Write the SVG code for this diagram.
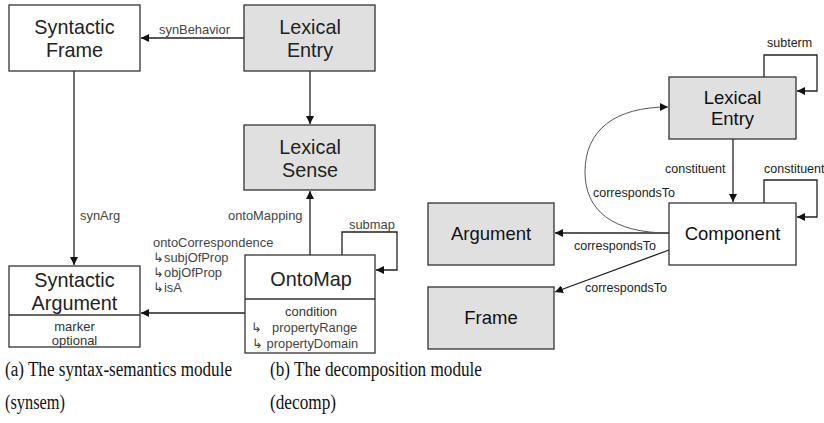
<svg xmlns="http://www.w3.org/2000/svg" width="824" height="423" viewBox="0 0 824 423">
<defs>
<marker id="ah" viewBox="0 0 10 10" refX="10" refY="5" markerWidth="8" markerHeight="8" markerUnits="userSpaceOnUse" orient="auto">
<path d="M0,0 L10,5 L0,10 z" fill="#111"/>
</marker>
<style>
rect{stroke:#333;stroke-width:1.3}
.w{fill:#fff}
.g{fill:#e0e0e0}
.t{font-family:"Liberation Sans",Arial,sans-serif;font-size:19.8px;fill:#222;text-anchor:middle}
.tr{font-family:"Liberation Sans",Arial,sans-serif;font-size:18.5px;fill:#111;text-anchor:middle}
.a{font-family:"Liberation Sans",Arial,sans-serif;font-size:13px;fill:#333;text-anchor:middle}
.l{font-family:"Liberation Sans",Arial,sans-serif;font-size:12.9px;fill:#444}
.lr{font-family:"Liberation Sans",Arial,sans-serif;font-size:12.5px;fill:#222}
.c{fill:none;stroke:#222;stroke-width:1.3;marker-end:url(#ah)}
.cap{font-family:"Liberation Serif","Times New Roman",serif;font-size:20px;fill:#111}
</style>
</defs>

<g id="connectors">
<line class="c" x1="244" y1="38" x2="141" y2="38"/>
<line class="c" x1="310" y1="71" x2="310" y2="124"/>
<line class="c" x1="74" y1="71" x2="74" y2="265"/>
<line class="c" x1="310" y1="255" x2="310" y2="191"/>
<path class="c" d="M342,255 V232 H397 V270 H376"/>
<line class="c" x1="245" y1="313" x2="141" y2="313"/>
<path class="c" d="M764,77 V55 H817 V91 H797"/>
<line class="c" x1="733" y1="139" x2="733" y2="202"/>
<path class="c" d="M764,203 V180 H817 V217 H797"/>
<line class="c" x1="669" y1="233" x2="555" y2="233"/>
<line class="c" x1="669" y1="250" x2="555" y2="292"/>
<path class="c" style="stroke:#555;stroke-width:1" d="M669,233 C612,233 585,210 585,172 C585,130 615,107 668,107"/>
</g>

<g id="labels">
<text class="l" x="159" y="34">synBehavior</text>
<text class="l" x="80" y="220">synArg</text>
<text class="l" x="228" y="220">ontoMapping</text>
<text class="l" x="349" y="229">submap</text>
<text class="l" x="153" y="247">ontoCorrespondence</text>
<text class="l" x="153" y="262">↳subjOfProp</text>
<text class="l" x="153" y="277">↳objOfProp</text>
<text class="l" x="153" y="292">↳isA</text>
<text class="lr" x="767" y="47">subterm</text>
<text class="lr" x="665" y="173">constituent</text>
<text class="lr" x="764" y="173">constituent</text>
<text class="lr" x="593" y="197">correspondsTo</text>
<text class="lr" x="574" y="250">correspondsTo</text>
<text class="lr" x="585" y="292">correspondsTo</text>
</g>

<g id="syntactic-frame">
<rect class="w" x="9" y="5" width="131" height="66"/>
<text class="t" x="74.5" y="34">Syntactic</text>
<text class="t" x="74.5" y="57">Frame</text>
</g>
<g id="lexical-entry-a">
<rect class="g" x="244" y="5" width="131" height="66"/>
<text class="t" x="310" y="34">Lexical</text>
<text class="t" x="310" y="57">Entry</text>
</g>
<g id="lexical-sense">
<rect class="g" x="244" y="125" width="131" height="65"/>
<text class="t" x="310" y="154">Lexical</text>
<text class="t" x="310" y="177">Sense</text>
</g>
<g id="syntactic-argument">
<rect class="w" x="9" y="266" width="131" height="81"/>
<line x1="9" y1="315" x2="140" y2="315" stroke="#333" stroke-width="1.3"/>
<text class="t" x="74.5" y="287">Syntactic</text>
<text class="t" x="74.5" y="310">Argument</text>
<text class="a" x="74.5" y="331">marker</text>
<text class="a" x="74.5" y="345">optional</text>
</g>
<g id="ontomap">
<rect class="w" x="245" y="255" width="130" height="98"/>
<line x1="245" y1="299" x2="375" y2="299" stroke="#333" stroke-width="1.3"/>
<text class="t" x="311" y="286">OntoMap</text>
<text class="a" x="311" y="316">condition</text>
<text class="l" x="251" y="332">↳</text>
<text class="l" x="272" y="332">propertyRange</text>
<text class="l" x="252" y="348">↳ propertyDomain</text>
</g>

<g id="lexical-entry-b">
<rect class="g" x="669" y="77" width="127" height="62"/>
<text class="tr" x="732.5" y="104">Lexical</text>
<text class="tr" x="732.5" y="125">Entry</text>
</g>
<g id="component">
<rect class="w" x="669" y="203" width="127" height="62"/>
<text class="tr" x="732.5" y="240">Component</text>
</g>
<g id="argument">
<rect class="g" x="428" y="203" width="126" height="62"/>
<text class="tr" x="491" y="240">Argument</text>
</g>
<g id="frame">
<rect class="g" x="428" y="287" width="126" height="62"/>
<text class="tr" x="491" y="324">Frame</text>
</g>

<g id="captions">
<text class="cap" x="5" y="376" textLength="227" lengthAdjust="spacingAndGlyphs">(a) The syntax-semantics module</text>
<text class="cap" x="5" y="409" textLength="60" lengthAdjust="spacingAndGlyphs">(synsem)</text>
<text class="cap" x="270" y="376" textLength="212" lengthAdjust="spacingAndGlyphs">(b) The decomposition module</text>
<text class="cap" x="270" y="409" textLength="66" lengthAdjust="spacingAndGlyphs">(decomp)</text>
</g>
</svg>
